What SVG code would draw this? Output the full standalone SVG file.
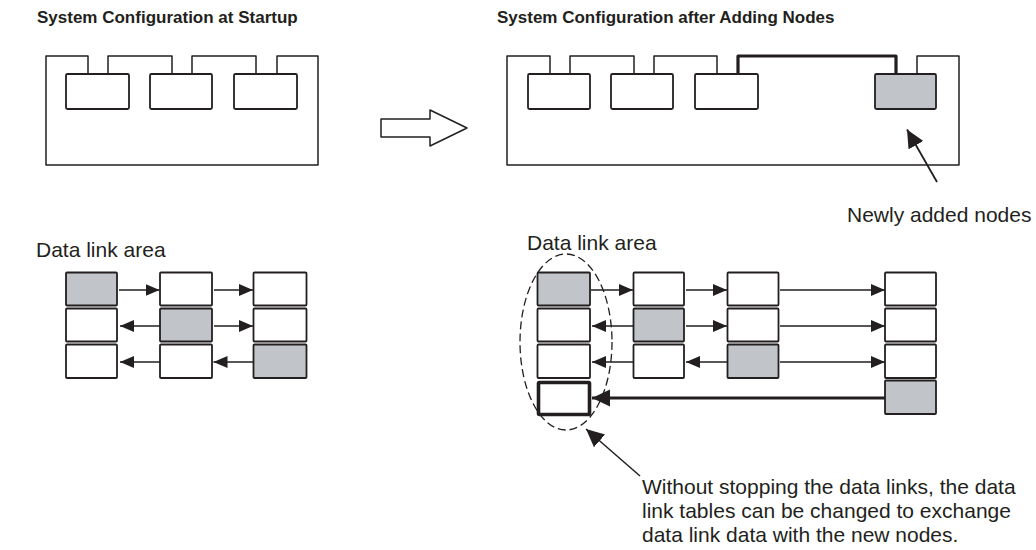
<svg xmlns="http://www.w3.org/2000/svg" width="1036" height="550" viewBox="0 0 1036 550">
<style>
.t{font-family:"Liberation Sans",Arial,sans-serif;fill:#231f20;font-size:21px}
.h{font-family:"Liberation Sans",Arial,sans-serif;fill:#231f20;font-size:17px;font-weight:bold}
.fr{fill:none;stroke:#231f20;stroke-width:1.5;stroke-linejoin:round}
.fr.k{stroke-width:3.2}
.bx{fill:#fff;stroke:#231f20;stroke-width:1.8}
.bx.k{stroke-width:3.6}
.g{fill:#c1c4c9}
.ln{stroke:#231f20;stroke-width:1.5;fill:none}
.ln.k{stroke-width:3.2}
.ln.m{stroke-width:1.8}
</style>
<defs>
<marker id="ah" markerUnits="userSpaceOnUse" markerWidth="15" markerHeight="13" refX="14" refY="6" orient="auto">
<path d="M0,0 L14,6 L0,12 z" fill="#231f20"/>
</marker>
<marker id="ahb" markerUnits="userSpaceOnUse" markerWidth="19" markerHeight="18" refX="18" refY="8.5" orient="auto">
<path d="M0,0 L18,8.5 L0,17 z" fill="#231f20"/>
</marker>
</defs>
<text class="h" x="37" y="23">System Configuration at Startup</text>
<text class="h" x="497" y="23">System Configuration after Adding Nodes</text>
<g id="startup-network">
<path class="fr" d="M88,74 V56 H46 V165 H318 V56 H277 V74 M108,74 V56 H172 V74 M192,74 V56 H256 V74"/>
<rect class="bx" x="66" y="74" width="63" height="35" rx="1.5"/>
<rect class="bx" x="150" y="74" width="62" height="35" rx="1.5"/>
<rect class="bx" x="234" y="74" width="63" height="35" rx="1.5"/>
</g>
<g id="transition-arrow">
<polygon class="fr" points="381,119 430,119 430,110 467,128 430,146 430,137 381,137"/>
</g>
<g id="added-network">
<path class="fr" d="M550,74 V56 H507 V165 H959 V56 H917 V74 M570,74 V56 H634 V74 M654,74 V56 H717 V74"/>
<path class="fr k" d="M738,74 V56 H896 V74"/>
<rect class="bx" x="528" y="74" width="62" height="35" rx="1.5"/>
<rect class="bx" x="611" y="74" width="62" height="35" rx="1.5"/>
<rect class="bx" x="695" y="74" width="63" height="35" rx="1.5"/>
<rect class="bx g" x="875" y="74" width="61" height="35" rx="1.5"/>
</g>
<text class="t" x="847" y="222">Newly added nodes</text>
<text class="t" x="36" y="257">Data link area</text>
<text class="t" x="527" y="250">Data link area</text>
<g id="left-table">
<rect class="bx g" x="66" y="272.5" width="51" height="33" rx="1"/>
<rect class="bx" x="160" y="272.5" width="52" height="33" rx="1"/>
<rect class="bx" x="253.5" y="272.5" width="53" height="33" rx="1"/>
<rect class="bx" x="66" y="308.5" width="51" height="33" rx="1"/>
<rect class="bx g" x="160" y="308.5" width="52" height="33" rx="1"/>
<rect class="bx" x="253.5" y="308.5" width="53" height="33" rx="1"/>
<rect class="bx" x="66" y="344.5" width="51" height="33.5" rx="1"/>
<rect class="bx" x="160" y="344.5" width="52" height="33.5" rx="1"/>
<rect class="bx g" x="253.5" y="344.5" width="53" height="33.5" rx="1"/>
</g>
<g id="right-table">
<rect class="bx g" x="537.5" y="272.5" width="52.5" height="33" rx="1"/>
<rect class="bx" x="633.5" y="272.5" width="50.5" height="33" rx="1"/>
<rect class="bx" x="727.5" y="272.5" width="51" height="33" rx="1"/>
<rect class="bx" x="885" y="272.5" width="51" height="33" rx="1"/>
<rect class="bx" x="537.5" y="308.5" width="52.5" height="33" rx="1"/>
<rect class="bx g" x="633.5" y="308.5" width="50.5" height="33" rx="1"/>
<rect class="bx" x="727.5" y="308.5" width="51" height="33" rx="1"/>
<rect class="bx" x="885" y="308.5" width="51" height="33" rx="1"/>
<rect class="bx" x="537.5" y="344.5" width="52.5" height="33.5" rx="1"/>
<rect class="bx" x="633.5" y="344.5" width="50.5" height="33.5" rx="1"/>
<rect class="bx g" x="727.5" y="344.5" width="51" height="33.5" rx="1"/>
<rect class="bx" x="885" y="344.5" width="51" height="33.5" rx="1"/>
<rect class="bx k" x="538.5" y="382.5" width="51" height="32" rx="1"/>
<rect class="bx g" x="885" y="380.5" width="51" height="33.5" rx="1"/>
</g>
<g id="data-link-group">
<ellipse cx="566" cy="342" rx="46" ry="88" fill="none" stroke="#231f20" stroke-width="1.3" stroke-dasharray="8 4"/>
</g>
<g id="connectors">
<line class="ln" x1="119" y1="290" x2="159.5" y2="290" marker-end="url(#ah)"/>
<line class="ln" x1="214" y1="290" x2="253" y2="290" marker-end="url(#ah)"/>
<line class="ln" x1="160" y1="326" x2="120" y2="326" marker-end="url(#ah)"/>
<line class="ln" x1="214" y1="326" x2="253" y2="326" marker-end="url(#ah)"/>
<line class="ln" x1="160" y1="362" x2="120" y2="362" marker-end="url(#ah)"/>
<line class="ln" x1="253" y1="362" x2="213.5" y2="362" marker-end="url(#ah)"/>
<line class="ln" x1="591" y1="290" x2="633" y2="290" marker-end="url(#ah)"/>
<line class="ln" x1="686" y1="290" x2="727" y2="290" marker-end="url(#ah)"/>
<line class="ln" x1="780" y1="290" x2="885" y2="290" marker-end="url(#ah)"/>
<line class="ln" x1="633" y1="326" x2="592" y2="326" marker-end="url(#ah)"/>
<line class="ln" x1="686" y1="326" x2="727" y2="326" marker-end="url(#ah)"/>
<line class="ln" x1="780" y1="326" x2="885" y2="326" marker-end="url(#ah)"/>
<line class="ln" x1="633" y1="362" x2="592" y2="362" marker-end="url(#ah)"/>
<line class="ln" x1="727" y1="362" x2="686" y2="362" marker-end="url(#ah)"/>
<line class="ln" x1="780" y1="362" x2="885" y2="362" marker-end="url(#ah)"/>
<line class="ln k" x1="885" y1="398" x2="592" y2="398" marker-end="url(#ahb)"/>
<line class="ln m" x1="937" y1="182" x2="907" y2="129.5" marker-end="url(#ahb)"/>
<line class="ln" x1="640" y1="476" x2="586" y2="429" marker-end="url(#ahb)"/>
</g>
<text class="t" x="642" y="494">Without stopping the data links, the data</text>
<text class="t" x="642" y="518">link tables can be changed to exchange</text>
<text class="t" x="642" y="542">data link data with the new nodes.</text>
</svg>
